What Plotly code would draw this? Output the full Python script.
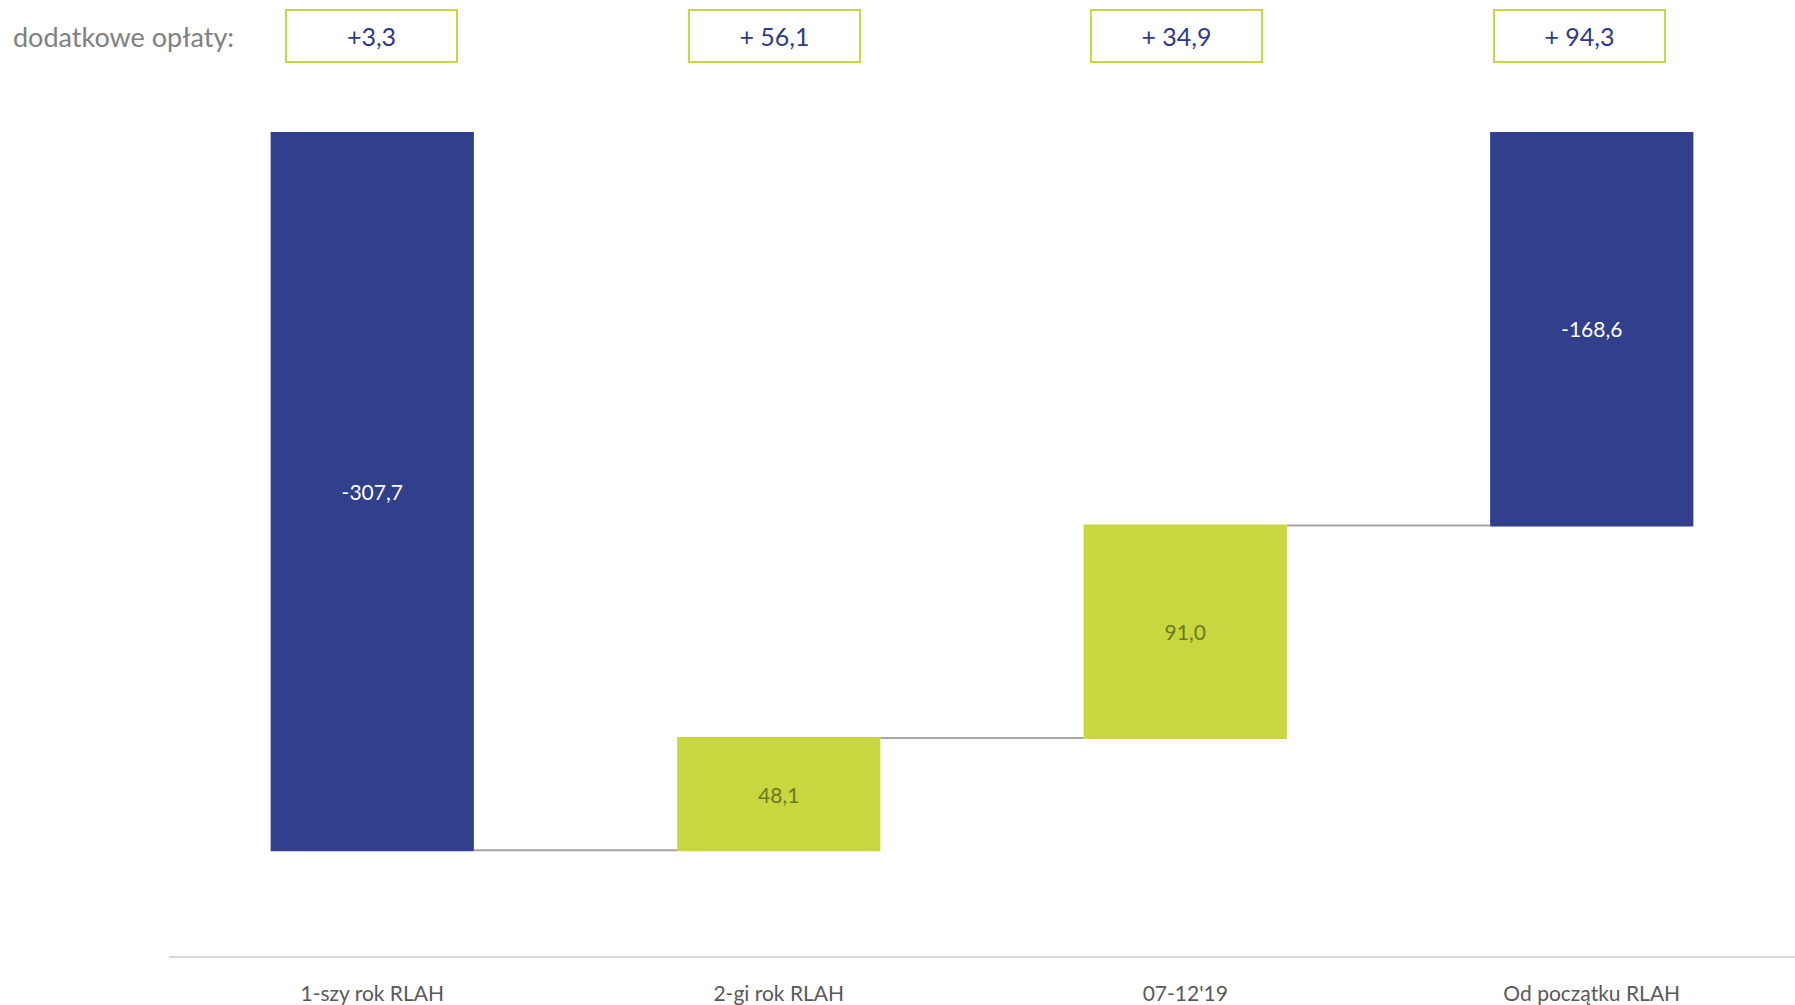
import plotly.graph_objects as go

categories = ["1-szy rok RLAH", "2-gi rok RLAH", "07-12'19", "Od początku RLAH"]
values = [-307.7, 48.1, 91.0, -168.6]
measures = ["relative", "relative", "relative", "total"]
bar_labels = ["-307,7", "48,1", "91,0", "-168,6"]
extra_fees = ["+3,3", "+ 56,1", "+ 34,9", "+ 94,3"]
extra_label = "dodatkowe opłaty:"

NAVY = "#323F8C"
LIME = "#C8D640"
OLIVE = "#6B7A1F"
FONT = "Lato"

label_colors = ["white" if v < 0 else OLIVE for v in values]

fig = go.Figure()
fig.add_trace(go.Waterfall(
    x=categories,
    y=values,
    measure=measures,
    text=bar_labels,
    textposition="inside",
    insidetextanchor="middle",
    textangle=0,
    insidetextfont=dict(family=FONT, size=21, color=label_colors),
    decreasing=dict(marker=dict(color=NAVY, line=dict(width=0))),
    increasing=dict(marker=dict(color=LIME, line=dict(width=0))),
    totals=dict(marker=dict(color=NAVY, line=dict(width=0))),
    connector=dict(mode="between", line=dict(color="#A6A6A6", width=2)),
    width=0.5,
    hoverinfo="skip",
    showlegend=False,
))

shifts = [-1, -4, -9, -12]
for cat, fee, sh in zip(categories, extra_fees, shifts):
    fig.add_annotation(
        x=cat, xref="x", y=1.117, yref="paper", yanchor="middle",
        text=fee, showarrow=False, xshift=sh,
        font=dict(family=FONT, size=25, color="#2E3A87"),
        bordercolor=LIME, borderwidth=2, width=167, height=48,
        bgcolor="white", align="center", valign="middle",
    )

fig.add_annotation(
    x=-0.097, xref="paper", xanchor="left", y=1.116, yref="paper", yanchor="middle",
    text=extra_label, showarrow=False,
    font=dict(family=FONT, size=27, color="#808080"),
)

fig.update_layout(
    width=1795, height=1005,
    margin=dict(l=169, r=0, t=132, b=46),
    paper_bgcolor="white", plot_bgcolor="white",
    font=dict(family=FONT, size=21, color="#595959"),
    xaxis=dict(showline=True, linecolor="#D9D9D9", linewidth=2, showgrid=False,
               ticks="", ticklabelstandoff=18, tickfont=dict(size=21, color="#595959")),
    yaxis=dict(range=[-353, 0], visible=False, showgrid=False, zeroline=False),
)

fig.write_html(
    "out.html",
    config={"displayModeBar": False},
    post_script="document.body.style.margin='0';document.body.style.overflow='hidden';",
)
